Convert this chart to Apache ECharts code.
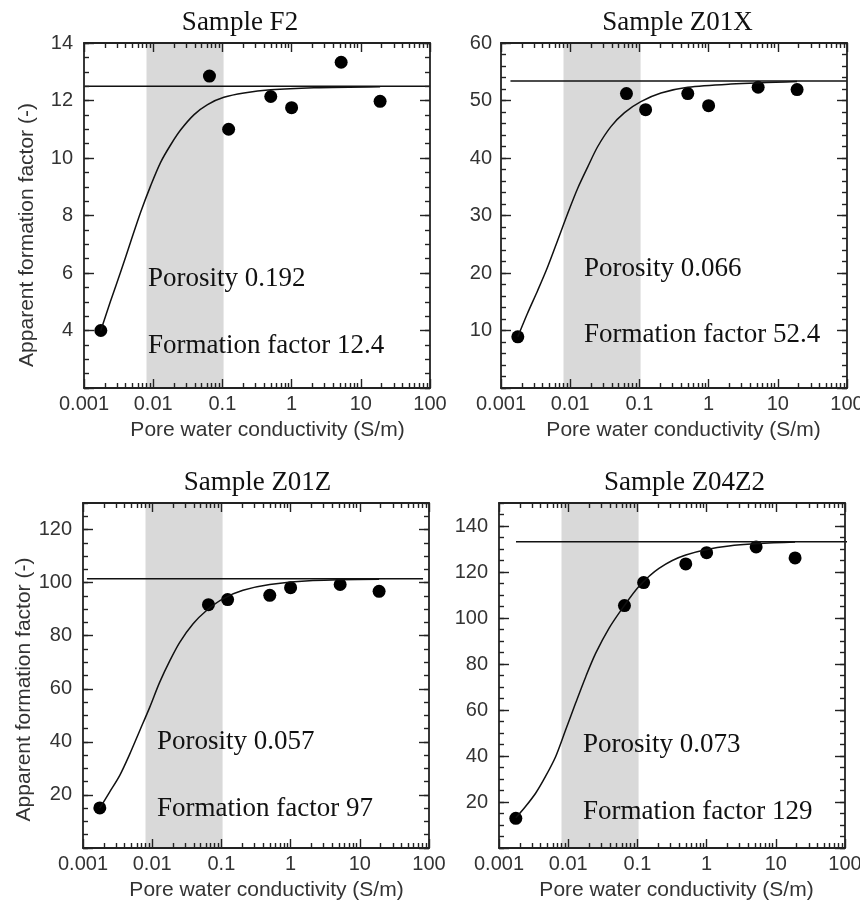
<!DOCTYPE html>
<html><head><meta charset="utf-8">
<script src="https://cdn.jsdelivr.net/npm/echarts@6/dist/echarts.min.js"></script>
<style>html,body{margin:0;padding:0;background:#fff}#c{width:860px;height:908px}</style>
</head><body><div id="c"></div>
<script>
// ---------------- data ----------------
const sampleNames = ['F2', 'Z01X', 'Z01Z', 'Z04Z2'];
const porosity = ['0.192', '0.066', '0.057', '0.073'];
const formationFactor = ['12.4', '52.4', '97', '129'];

const xTickLabels = [0.001, 0.01, 0.1, 1, 10, 100];
const yTickLabelsF2 = [4, 6, 8, 10, 12, 14];
const yTickLabelsZ01X = [10, 20, 30, 40, 50, 60];
const yTickLabelsZ01Z = [20, 40, 60, 80, 100, 120];
const yTickLabelsZ04Z2 = [20, 40, 60, 80, 100, 120, 140];

const conductivity = [0.00175, 0.065, 0.123, 0.5, 1.0, 5.2, 19];
const measuredF2 = [4.0, 12.85, 11.0, 12.14, 11.75, 13.33, 11.97];
const measuredZ01X = [8.9, 51.2, 48.4, 51.2, 49.1, 52.3, 51.9];
const measuredZ01Z = [15.1, 91.7, 93.6, 95.2, 98.1, 99.3, 96.7];
const measuredZ04Z2 = [12.9, 105.4, 115.4, 123.5, 128.4, 130.9, 126.1];

const curveX = [0.00175, 0.0024, 0.0034, 0.0047, 0.0066, 0.0092, 0.0128, 0.018, 0.025, 0.039, 0.061, 0.105, 0.205, 0.5, 2.1, 19];
const curveF2 = [4.0, 5.0, 6.05, 7.07, 8.12, 9.04, 9.85, 10.47, 10.98, 11.51, 11.86, 12.11, 12.26, 12.37, 12.44, 12.48];
const curveZ01X = [8.9, 12.9, 17.0, 21.0, 25.7, 30.35, 34.7, 38.5, 42.0, 45.5, 47.9, 49.8, 51.3, 52.3, 52.85, 53.3];
const curveZ01Z = [15.0, 20.9, 27.4, 35.2, 44.2, 53.0, 62.4, 70.6, 77.5, 84.5, 89.5, 93.9, 97.1, 99.3, 100.8, 101.3];
const curveZ04Z2 = [13.1, 17.9, 23.9, 31.1, 39.8, 51.4, 63.0, 74.6, 84.7, 95.6, 104.3, 113.7, 121.6, 127.4, 131.3, 133.0];

const plateauValue = [12.5, 53.4, 101.5, 133.2];
const plateauStartX = [0.00103, 0.00137, 0.00114, 0.00176];
const plateauEndX = [100, 100, 82, 119];
const bandRange = [0.008, 0.104];

const yMin = [2, 0, 0, 0];
const yMax = [14, 60, 130, 150];
const yMajorStep = [2, 10, 20, 20];
const yMinorStep = [0.5, 2, 5, 5];

// ---------------- layout / style ----------------
const measured = [measuredF2, measuredZ01X, measuredZ01Z, measuredZ04Z2];
const curves = [curveF2, curveZ01X, curveZ01Z, curveZ04Z2];
const yLabels = [yTickLabelsF2, yTickLabelsZ01X, yTickLabelsZ01Z, yTickLabelsZ04Z2];

const grids = [
  {left: 84, top: 43, width: 346, height: 345},
  {left: 501, top: 43, width: 346, height: 345},
  {left: 83, top: 503, width: 346, height: 345},
  {left: 499, top: 503, width: 346, height: 345}
];
const titlePos = [[240, 23], [677.5, 23], [257.5, 483], [684.5, 483]];
const poroPos = [[148, 279], [584, 269], [157, 742], [583, 745]];
const ffPos = [[148, 346], [584, 335], [157, 809], [583, 812]];
const yLabelMargin = [11, 9, 11, 11];
const xNamePad = [21, 19, 21, 9];
const yNamePad = [39, 0, 28, 0];
const yNameGap = [46, 46, 48, 46];

const AX = '#222';
const LBL = '#333';
const sans = 'Liberation Sans';

function range(a, b, s) { const v = []; for (let x = a; x <= b + 1e-9; x += s) v.push(+x.toFixed(4)); return v; }
function logMinor() {
  const v = [];
  for (let e = -3; e < 2; e++) for (let m = 2; m <= 9; m++) v.push(+(m * Math.pow(10, e)).toPrecision(3));
  return v;
}
const xMinor = logMinor();

const xAxes = [], yAxes = [], series = [], graphics = [];
grids.forEach((g, i) => {
  const lineStyle = {color: AX, width: 1.8};
  const tickStyle = {color: AX, width: 1.4};
  const baseX = {gridIndex: i, type: 'log', logBase: 10, min: 0.001, max: 100, splitLine: {show: false}, z: 5};
  xAxes.push(Object.assign({}, baseX, {
    position: 'bottom',
    axisLine: {show: true, onZero: false, lineStyle},
    axisTick: {show: true, inside: true, length: 9, customValues: xTickLabels, lineStyle: tickStyle},
    axisLabel: {show: true, customValues: xTickLabels, formatter: v => String(v), margin: 6,
      fontFamily: sans, fontSize: 20, color: LBL},
    name: 'Pore water conductivity (S/m)', nameLocation: 'middle', nameGap: 32,
    nameTextStyle: {fontFamily: sans, fontSize: 21, color: LBL, padding: [0, 0, 0, xNamePad[i]]}
  }));
  xAxes.push(Object.assign({}, baseX, {
    position: 'bottom', axisLine: {show: false, onZero: false},
    axisTick: {show: true, inside: true, length: 5, customValues: xMinor, lineStyle: tickStyle},
    axisLabel: {show: false}
  }));
  xAxes.push(Object.assign({}, baseX, {
    position: 'top', axisLine: {show: true, onZero: false, lineStyle},
    axisTick: {show: true, inside: true, length: 9, customValues: xTickLabels, lineStyle: tickStyle},
    axisLabel: {show: false}
  }));
  xAxes.push(Object.assign({}, baseX, {
    position: 'top', axisLine: {show: false, onZero: false},
    axisTick: {show: true, inside: true, length: 5, customValues: xMinor, lineStyle: tickStyle},
    axisLabel: {show: false}
  }));

  const majors = range(yMin[i], yMax[i], yMajorStep[i]);
  const minors = range(yMin[i], yMax[i], yMinorStep[i]);
  const baseY = {gridIndex: i, type: 'value', min: yMin[i], max: yMax[i], splitLine: {show: false}, z: 5};
  const leftMain = Object.assign({}, baseY, {
    position: 'left', axisLine: {show: true, onZero: false, lineStyle},
    axisTick: {show: true, inside: true, length: 10, customValues: majors, lineStyle: tickStyle},
    axisLabel: {show: true, customValues: yLabels[i], margin: yLabelMargin[i], fontFamily: sans, fontSize: 20, color: LBL}
  });
  if (i === 0 || i === 2) {
    Object.assign(leftMain, {
      name: 'Apparent formation factor (-)', nameLocation: 'middle', nameGap: yNameGap[i],
      nameTextStyle: {fontFamily: sans, fontSize: 21, color: LBL, padding: [0, yNamePad[i], 0, 0]}
    });
  }
  yAxes.push(leftMain);
  yAxes.push(Object.assign({}, baseY, {
    position: 'left', axisLine: {show: false, onZero: false},
    axisTick: {show: true, inside: true, length: 5, customValues: minors, lineStyle: tickStyle},
    axisLabel: {show: false}
  }));
  yAxes.push(Object.assign({}, baseY, {
    position: 'right', axisLine: {show: true, onZero: false, lineStyle},
    axisTick: {show: true, inside: true, length: 10, customValues: majors, lineStyle: tickStyle},
    axisLabel: {show: false}
  }));
  yAxes.push(Object.assign({}, baseY, {
    position: 'right', axisLine: {show: false, onZero: false},
    axisTick: {show: true, inside: true, length: 5, customValues: minors, lineStyle: tickStyle},
    axisLabel: {show: false}
  }));

  const xi = 4 * i, yi = 4 * i;
  series.push({
    type: 'line', xAxisIndex: xi, yAxisIndex: yi, data: [], silent: true,
    markArea: {silent: true, itemStyle: {color: '#d9d9d9'}, label: {show: false},
      data: [[{xAxis: bandRange[0]}, {xAxis: bandRange[1]}]]}
  });
  series.push({
    type: 'line', xAxisIndex: xi, yAxisIndex: yi, clip: false, showSymbol: false, silent: true,
    lineStyle: {color: '#111', width: 1.5},
    data: [[plateauStartX[i], plateauValue[i]], [plateauEndX[i], plateauValue[i]]]
  });
  series.push({
    type: 'line', xAxisIndex: xi, yAxisIndex: yi, showSymbol: false, silent: true,
    smooth: 0.3,
    lineStyle: {color: '#111', width: 1.5},
    data: curveX.map((x, k) => [x, curves[i][k]])
  });
  series.push({
    type: 'scatter', xAxisIndex: xi, yAxisIndex: yi, symbolSize: 13, silent: true,
    itemStyle: {color: '#000', opacity: 1},
    data: conductivity.map((x, k) => [x, measured[i][k]])
  });

  graphics.push({type: 'text', x: titlePos[i][0], y: titlePos[i][1], silent: true,
    style: {text: 'Sample ' + sampleNames[i], font: '27px "Liberation Serif"', fill: '#111',
      align: 'center', verticalAlign: 'middle', textAlign: 'center', textVerticalAlign: 'middle'}});
  graphics.push({type: 'text', x: poroPos[i][0], y: poroPos[i][1], silent: true, z: 20,
    style: {text: 'Porosity ' + porosity[i], font: '27px "Liberation Serif"', fill: '#111',
      align: 'left', verticalAlign: 'middle', textAlign: 'left', textVerticalAlign: 'middle'}});
  graphics.push({type: 'text', x: ffPos[i][0], y: ffPos[i][1], silent: true, z: 20,
    style: {text: 'Formation factor ' + formationFactor[i], font: '27px "Liberation Serif"', fill: '#111',
      align: 'left', verticalAlign: 'middle', textAlign: 'left', textVerticalAlign: 'middle'}});
});

const chart = echarts.init(document.getElementById('c'), null, {renderer: 'canvas'});
chart.setOption({
  animation: false,
  backgroundColor: '#fff',
  grid: grids.map(g => Object.assign({outerBoundsMode: 'none', containLabel: false}, g)),
  xAxis: xAxes,
  yAxis: yAxes,
  series: series,
  graphic: graphics
});
</script>
</body></html>
